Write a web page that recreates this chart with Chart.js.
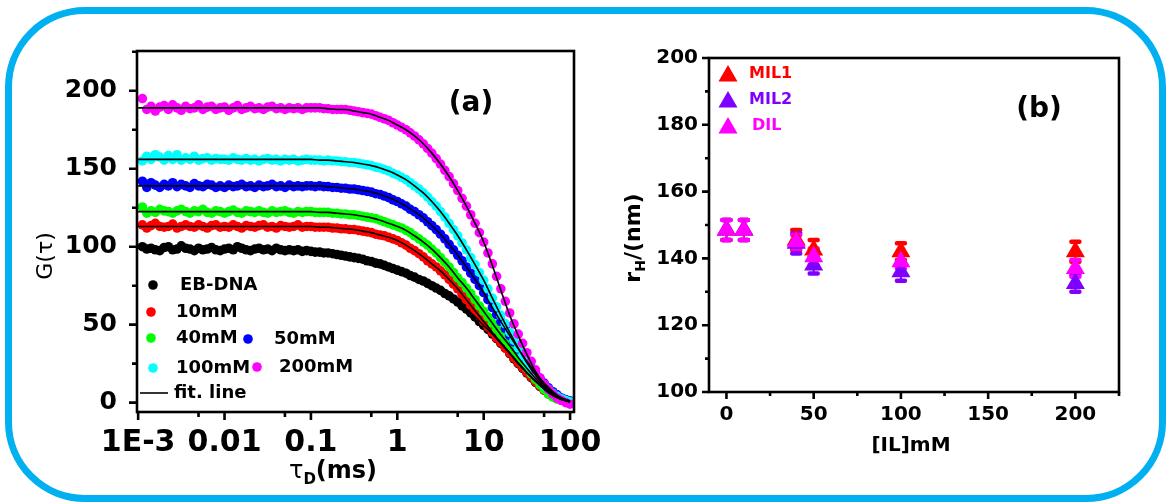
<!DOCTYPE html>
<html>
<head>
<meta charset="utf-8">
<script src="https://cdn.jsdelivr.net/npm/chart.js@4.4.1/dist/chart.umd.min.js"></script>
<style>
html,body{margin:0;padding:0;background:#fff;}
#wrap{position:relative;width:1169px;height:504px;overflow:hidden;background:#fff;}
#frame{position:absolute;left:5px;top:7px;width:1161px;height:495px;box-sizing:border-box;border:7px solid #00b0f0;border-radius:80px;}
#cvA{position:absolute;left:0;top:0;}
#cvB{position:absolute;left:600px;top:0;}
</style>
</head>
<body>
<div id="wrap">
  <div id="frame"></div>
  <canvas id="cvA" width="600" height="504"></canvas>
  <canvas id="cvB" width="569" height="504"></canvas>
</div>
<script>
const FONT = "'DejaVu Sans', sans-serif";

// ---- (a) correlation curves G(tau) ----
const tau = [0.00112, 0.00126, 0.00141, 0.00158, 0.00178, 0.002, 0.00224, 0.00251, 0.00282,
  0.00316, 0.00355, 0.00398, 0.00447, 0.00501, 0.00562, 0.00631, 0.00708, 0.00794, 0.00891,
  0.01, 0.0112, 0.0126, 0.0141, 0.0158, 0.0178, 0.02, 0.0224, 0.0251, 0.0282,
  0.0316, 0.0355, 0.0398, 0.0447, 0.0501, 0.0562, 0.0631, 0.0708, 0.0794, 0.0891,
  0.1, 0.112, 0.126, 0.141, 0.158, 0.178, 0.2, 0.224, 0.251, 0.282,
  0.316, 0.355, 0.398, 0.447, 0.501, 0.562, 0.631, 0.708, 0.794, 0.891,
  1, 1.12, 1.26, 1.41, 1.58, 1.78, 2, 2.24, 2.51, 2.82,
  3.16, 3.55, 3.98, 4.47, 5.01, 5.62, 6.31, 7.08, 7.94, 8.91,
  10, 11.2, 12.6, 14.1, 15.8, 17.8, 20, 22.4, 25.1, 28.2,
  31.6, 35.5, 39.8, 44.7, 50.1, 56.2, 63.1, 70.8, 79.4, 89.1,
  100];

const gEB = [100, 98.5, 99, 98, 97.5, 99.5, 100, 98, 98.5, 100.5, 99, 98.5, 97.5, 99, 98, 98.5, 99.5, 98, 97.5,
  98.5, 99, 98, 100, 99, 98, 97.5, 98.5, 99, 98, 98.5, 97.5, 99, 98, 97.5, 98, 97.5, 98, 97, 97.5,
  97, 96.5, 96.5, 96, 96, 95.5, 95, 94.5, 94, 93.5, 93, 92.5, 92, 91, 90.5, 89.5, 89, 88, 87, 86,
  85, 84, 83, 81.5, 80.5, 79, 78, 76.5, 75, 73.5, 72, 70, 68.5, 66.5, 64.5, 62, 60, 57.5, 55, 52,
  49.5, 47, 44, 41, 38, 35, 31.5, 28, 25, 22, 19, 16, 13, 10.5, 8, 6, 4, 3, 2, 1,
  0.5];
const g10 = [114, 112, 113.5, 115, 113, 112.5, 113, 114.5, 112, 113, 114, 113, 112.5, 114, 113, 112, 113.5, 114, 112.5,
  113, 112.5, 114, 113, 112, 113.5, 113, 112.5, 113.5, 114, 112.5, 113, 112, 113.5, 113, 112.5, 113, 114, 112.5, 113,
  113, 112.5, 112.5, 112.5, 112.5, 112, 112, 111.5, 111.5, 111, 111, 110.5, 110, 109.5, 109, 108, 107.5, 107, 106, 105,
  104, 102.5, 101, 99, 97.5, 95.5, 93.5, 91, 89, 87, 84.5, 82, 79, 76, 73, 69.5, 66, 62.5, 59, 55.5,
  52, 48.5, 45, 41.5, 38.5, 35, 32, 28.5, 25.5, 22.5, 19.5, 16.5, 13.5, 10.5, 8, 5.5, 4, 2.5, 1.5, 1,
  0.5];
const g40 = [125.5, 121.5, 123, 122, 124, 123, 122.5, 121.5, 123, 124, 122.5, 121.5, 123, 122.5, 124, 122, 121.5, 123, 122.5,
  121.5, 122.5, 123.5, 122, 121.5, 123, 122.5, 122, 123, 122, 121.5, 123, 122, 122.5, 123, 122, 121.5, 122.5, 122, 122.5,
  122.5, 122, 122, 122, 122, 121.5, 121.5, 121, 121, 120.5, 120.5, 120, 119.5, 119, 118.5, 118, 117, 116, 115, 114,
  113, 112, 110.5, 109, 107, 105, 103, 101, 98.5, 96, 93, 90, 87, 83.5, 80, 77, 73.5, 70, 66, 62,
  58.5, 55, 51, 47, 43.5, 40, 36.5, 33, 29, 25.5, 22, 18.5, 15, 11.5, 8.5, 5.5, 3.5, 2.5, 2, 1.5,
  1];
const g50 = [142, 138, 141, 139.5, 138, 140, 139, 141, 138.5, 140, 139, 138, 140.5, 139, 138.5, 140, 139.5, 138, 139,
  138, 139.5, 138.5, 139, 140, 138.5, 139, 138, 139.5, 138.5, 139, 140, 138.5, 139, 138, 139.5, 138.5, 139, 138.5, 139,
  139, 138.5, 139, 138.5, 138.5, 138, 138, 137.5, 137.5, 137, 137, 136.5, 136, 135.5, 135, 134, 133.5, 132.5, 131.5, 130,
  129, 127.5, 126, 124, 122.5, 120.5, 118.5, 116, 113.5, 111, 108, 105, 101.5, 98, 94.5, 91, 87, 83, 79, 75,
  70.5, 66, 61, 56.5, 52, 47.5, 43, 39, 34.5, 30.5, 26.5, 22.5, 19, 15.5, 12.5, 9.5, 7, 5, 3, 2,
  1];
const g100 = [155, 158, 156, 159, 157.5, 155.5, 158.5, 156, 159, 155.5, 157, 156, 158, 155.5, 156.5, 157, 155.5, 156.5, 156,
  156, 155.5, 157, 156, 155.5, 156.5, 155.5, 156, 155, 156, 156.5, 155.5, 156, 155, 156, 155.5, 156, 155, 155.5, 156,
  155.5, 155.5, 155.5, 155, 155.5, 155, 155, 154.5, 154.5, 154, 154, 153.5, 153, 152.5, 152, 151, 150.5, 149.5, 148.5, 147,
  146, 144.5, 143, 141, 139, 137, 134.5, 132, 129, 126, 122.5, 119, 115, 111, 107, 102.5, 98, 93, 88.5, 83.5,
  78.5, 73, 67, 61.5, 56, 50.5, 45, 40, 35, 30, 25.5, 21.5, 17.5, 14, 11, 8.5, 6, 4, 2.5, 1.5,
  0.5];
const g200 = [195, 188, 190, 187, 189.5, 190.5, 188, 191, 189, 187.5, 190, 188.5, 189, 191, 188, 189.5, 190, 188, 189,
  189.5, 187.5, 189, 190.5, 188, 189, 190, 188.5, 189, 188, 189.5, 190, 188.5, 189, 188, 189, 188.5, 189, 188, 189,
  189, 189, 189, 188.5, 188.5, 188, 188, 188, 188, 187.5, 187, 186.5, 186, 185.5, 185, 184, 183, 182, 181, 179.5,
  178, 176.5, 175, 173, 171, 168.5, 166, 163, 160, 156.5, 153, 149, 145, 140.5, 136, 131, 126, 120.5, 115, 109,
  103, 96, 89, 81, 73, 65, 57.5, 50.5, 44, 38, 32, 26.5, 21, 16, 12, 8.5, 5.5, 3, 1.5, 0,
  -1];

// fitted curves, sampled ten per decade
const tauFit = [0.001, 0.00126, 0.00158, 0.002, 0.00251, 0.00316, 0.00398, 0.00501, 0.00631, 0.00794,
  0.01, 0.0126, 0.0158, 0.02, 0.0251, 0.0316, 0.0398, 0.0501, 0.0631, 0.0794,
  0.1, 0.126, 0.158, 0.2, 0.251, 0.316, 0.398, 0.501, 0.631, 0.794,
  1, 1.26, 1.58, 2, 2.51, 3.16, 3.98, 5.01, 6.31, 7.94,
  10, 12.6, 15.8, 20, 25.1, 31.6, 39.8, 50.1, 63.1, 79.4, 100];
const fitEB = [99, 99, 99, 99, 99, 99, 99, 99, 98.5, 98.5, 98.5, 98.5, 98.5, 98, 98, 98, 98, 97.5, 97.5, 97.5,
  97, 96.5, 96, 95, 94, 93, 92, 90.5, 89, 87, 85, 83, 80.5, 78, 75, 72, 68.5, 64.5, 60, 55,
  49.5, 44, 38, 31.5, 25, 19, 13.5, 8.5, 4.5, 2, 0.5];
const fit10 = [113, 113, 113, 113, 113, 113, 113, 113, 113, 113, 113, 113, 113, 113, 113, 113, 113, 113, 113, 113,
  113, 112.5, 112.5, 112, 111.5, 111, 110, 109, 107.5, 106, 104, 101, 97.5, 93.5, 89, 84.5, 79, 73, 66, 59,
  52, 45, 38.5, 32, 25.5, 19.5, 14, 9, 5, 2, 0.5];
const fit40 = [122.5, 122.5, 122.5, 122.5, 122.5, 122.5, 122.5, 122.5, 122.5, 122.5, 122.5, 122.5, 122.5, 122.5, 122.5, 122.5, 122.5, 122.5, 122.5, 122.5,
  122.5, 122, 122, 121.5, 121, 120.5, 119.5, 118.5, 117, 115, 113, 110.5, 107, 103, 98.5, 93, 87, 80, 73.5, 66,
  58.5, 51, 43.5, 36.5, 29, 22, 15.5, 10, 5.5, 2.5, 0.5];
const fit50 = [139, 139, 139, 139, 139, 139, 139, 139, 139, 139, 139, 139, 139, 139, 139, 139, 139, 139, 139, 139,
  139, 139, 138.5, 138, 137.5, 137, 136, 135, 133.5, 131.5, 129, 126, 122.5, 118.5, 113.5, 108, 101.5, 94.5, 87, 79,
  70.5, 61, 52, 43, 34.5, 26.5, 19, 12.5, 7, 3, 1];
const fit100 = [156, 156, 156, 156, 156, 156, 156, 156, 156, 156, 156, 156, 156, 156, 156, 156, 156, 156, 156, 156,
  156, 155.5, 155.5, 155, 154.5, 154, 153, 152, 150.5, 148.5, 146, 143, 139, 134.5, 129, 122.5, 115, 107, 98, 88.5,
  78.5, 67, 56, 45, 35, 25.5, 17.5, 11, 6, 2.5, 0.5];
const fit200 = [189, 189, 189, 189, 189, 189, 189, 189, 189, 189, 189, 189, 189, 189, 189, 189, 189, 189, 189, 189,
  189, 189, 188.5, 188, 188, 187, 186, 185, 183, 181, 178, 175, 171, 166, 160, 153, 145, 136, 126, 115,
  103, 88, 72, 56, 43, 31, 20, 12, 6, 3, 1];

const seriesNames = ['EB-DNA', '10mM', '40mM', '50mM', '100mM', '200mM'];
const seriesColors = ['#000000', '#ff0000', '#00ff00', '#0000ff', '#00ffff', '#ff00ff'];
const tauTicks = [0.001, 0.01, 0.1, 1, 10, 100];
const tauTickLabels = ['1E-3', '0.01', '0.1', '1', '10', '100'];
const tauMinor = [0.005, 0.05, 0.5, 5, 50];
const gTicks = [0, 50, 100, 150, 200];
const gMinor = [25, 75, 125, 175, 225];

// ---- (b) hydrodynamic radius vs IL concentration ----
const ilConc = [0, 10, 40, 50, 100, 200];
const rhMIL1 = [148.5, 148.5, 145.5, 142.5, 142, 142];
const errMIL1 = [3, 3, 3, 3, 2.5, 3];
const rhMIL2 = [148.5, 148.5, 144.5, 138, 136, 132.5];
const errMIL2 = [3, 3, 3, 2.5, 2.7, 2.5];
const rhDIL = [148.5, 148.5, 145, 140.5, 139, 137];
const errDIL = [3, 3, 2, 2.5, 2, 2.5];
const ilNames = ['MIL1', 'MIL2', 'DIL'];
const ilColors = ['#ff0000', '#8000ff', '#ff00ff'];
const ilTicks = [0, 50, 100, 150, 200];
const ilMinor = [25, 75, 125, 175, 225];
const rhTicks = [100, 120, 140, 160, 180, 200];
const rhMinor = [110, 130, 150, 170, 190];

function fnt(size, weight){ return (weight || 'bold') + ' ' + size + 'px ' + FONT; }

// draw a row of text pieces (for subscripts) centred on x, baseline y
function textRuns(ctx, runs, x, y){
  let w = 0;
  runs.forEach(r => { ctx.font = r.f; r.w = ctx.measureText(r.t).width; w += r.w; });
  let cx = x - w / 2;
  ctx.textAlign = 'left'; ctx.textBaseline = 'alphabetic';
  runs.forEach(r => { ctx.font = r.f; ctx.fillText(r.t, cx, y + (r.dy || 0)); cx += r.w; });
}

function triangle(ctx, x, y, r){
  ctx.beginPath();
  ctx.moveTo(x, y - r);
  ctx.lineTo(x + r * 0.866, y + r / 2);
  ctx.lineTo(x - r * 0.866, y + r / 2);
  ctx.closePath();
  ctx.fill();
}

// box around the plot plus outward major/minor ticks
function axesFrame(xMajor, xMinor, yMajor, yMinor, majLen, minLen){
  return {
    id: 'axesFrame',
    afterDatasetsDraw(chart){
      const {ctx, chartArea: a, scales: {x, y}} = chart;
      ctx.save();
      ctx.strokeStyle = '#000'; ctx.lineWidth = 2.6;
      ctx.strokeRect(a.left, a.top, a.right - a.left, a.bottom - a.top);
      ctx.beginPath();
      const xt = (vals, len) => vals.forEach(v => {
        const p = x.getPixelForValue(v);
        if (p < a.left - 1 || p > a.right + 1) return;
        ctx.moveTo(p, a.bottom); ctx.lineTo(p, a.bottom + len);
      });
      const yt = (vals, len) => vals.forEach(v => {
        const p = y.getPixelForValue(v);
        if (p < a.top - 1 || p > a.bottom + 1) return;
        ctx.moveTo(a.left, p); ctx.lineTo(a.left - len, p);
      });
      xt(xMajor, majLen); xt(xMinor, minLen); yt(yMajor, majLen); yt(yMinor, minLen);
      ctx.stroke();
      ctx.restore();
    }
  };
}

const labelsA = {
  id: 'labelsA',
  afterDraw(chart){
    const ctx = chart.ctx;
    ctx.save();
    ctx.fillStyle = '#000';
    ctx.font = fnt(28); ctx.textAlign = 'center'; ctx.textBaseline = 'middle';
    ctx.fillText('(a)', 471, 104);
    textRuns(ctx, [{t: 'τ', f: fnt(24, 'normal')}, {t: 'D', f: fnt(15), dy: 6}, {t: '(ms)', f: fnt(24)}], 333, 478);
    ctx.save();
    ctx.translate(44, 256); ctx.rotate(-Math.PI / 2);
    textRuns(ctx, [{t: 'G(τ)', f: fnt(22, 'normal')}], 0, 8);
    ctx.restore();
    // legend
    const items = [[153, 285, 180], [151, 312, 176], [151, 338, 176], [248, 339, 274], [153, 368, 176], [257, 367, 279]];
    items.forEach((it, i) => {
      ctx.fillStyle = seriesColors[i];
      ctx.beginPath(); ctx.arc(it[0], it[1], 4.8, 0, Math.PI * 2); ctx.fill();
      ctx.fillStyle = '#000'; ctx.font = fnt(18); ctx.textAlign = 'left'; ctx.textBaseline = 'middle';
      ctx.fillText(seriesNames[i], it[2], it[1]);
    });
    ctx.strokeStyle = '#000'; ctx.lineWidth = 1.6;
    ctx.beginPath(); ctx.moveTo(140, 393); ctx.lineTo(168, 393); ctx.stroke();
    ctx.font = fnt(18); ctx.textAlign = 'left'; ctx.textBaseline = 'middle';
    ctx.fillText('fit. line', 174, 393);
    ctx.restore();
  }
};

const rhSets = [rhMIL1, rhMIL2, rhDIL];
const errSets = [errMIL1, errMIL2, errDIL];

const errorBars = {
  id: 'errorBars',
  beforeDatasetsDraw(chart){
    const {ctx, scales: {x, y}} = chart;
    ctx.save();
    rhSets.forEach((vals, i) => {
      ctx.strokeStyle = ilColors[i];
      vals.forEach((v, j) => {
        const px = x.getPixelForValue(ilConc[j]);
        const top = y.getPixelForValue(v + errSets[i][j]);
        const bot = y.getPixelForValue(v - errSets[i][j]);
        ctx.lineCap = 'butt'; ctx.lineWidth = 2;
        ctx.beginPath(); ctx.moveTo(px, top); ctx.lineTo(px, bot); ctx.stroke();
        ctx.lineCap = 'round'; ctx.lineWidth = 4.5;
        ctx.beginPath();
        ctx.moveTo(px - 4, top); ctx.lineTo(px + 4, top);
        ctx.moveTo(px - 4, bot); ctx.lineTo(px + 4, bot);
        ctx.stroke();
      });
    });
    ctx.restore();
  }
};

const labelsB = {
  id: 'labelsB',
  afterDraw(chart){
    const ctx = chart.ctx;
    ctx.save();
    ctx.fillStyle = '#000';
    ctx.font = fnt(28); ctx.textAlign = 'center'; ctx.textBaseline = 'middle';
    ctx.fillText('(b)', 439, 110);
    textRuns(ctx, [{t: '[IL]mM', f: fnt(20)}], 311, 451);
    ctx.save();
    ctx.translate(32, 238); ctx.rotate(-Math.PI / 2);
    textRuns(ctx, [{t: 'r', f: fnt(22)}, {t: 'H', f: fnt(14), dy: 5}, {t: '/(nm)', f: fnt(22)}], 0, 8);
    ctx.restore();
    const rows = [[74, 149], [100, 149], [126, 152]];
    rows.forEach((r, i) => {
      ctx.fillStyle = ilColors[i];
      triangle(ctx, 128, r[0] + 2, 11);
      ctx.font = fnt(16); ctx.textAlign = 'left'; ctx.textBaseline = 'middle';
      ctx.fillText(ilNames[i], r[1], r[0]);
    });
    ctx.restore();
  }
};

const tickFont = size => ({family: FONT, weight: 'bold', size: size});

// ---- chart (a) ----
const datasetsA = [];
[fitEB, fit10, fit40, fit50, fit100, fit200].forEach(f => datasetsA.push({
  type: 'line', data: tauFit.map((t, j) => ({x: t, y: f[j]})),
  borderColor: '#000', borderWidth: 1.6, pointRadius: 0, fill: false,
  cubicInterpolationMode: 'monotone', order: 0, clip: false
}));
[gEB, g10, g40, g50, g100, g200].forEach((g, i) => datasetsA.push({
  type: 'scatter', data: tau.map((t, j) => ({x: t, y: g[j]})),
  backgroundColor: seriesColors[i], borderWidth: 0, pointRadius: 4.8, order: 6 - i, clip: false
}));

new Chart(document.getElementById('cvA'), {
  type: 'scatter',
  data: {datasets: datasetsA},
  options: {
    responsive: false, animation: false, devicePixelRatio: 1, events: [],
    layout: {padding: {left: 37, right: 26, top: 51, bottom: 32}},
    plugins: {legend: {display: false}, tooltip: {enabled: false}},
    scales: {
      x: {
        type: 'logarithmic', min: 0.00097, max: 111,
        grid: {display: false, drawTicks: false}, border: {display: false},
        afterBuildTicks: s => { s.ticks = tauTicks.map(v => ({value: v})); },
        afterFit: s => { s.height = 60; s.paddingLeft = 0; s.paddingRight = 0; },
        ticks: {autoSkip: false, maxRotation: 0, padding: 13, color: '#000', font: tickFont(30),
          callback: (v, i) => tauTickLabels[i]}
      },
      y: {
        type: 'linear', min: -6, max: 225.5,
        grid: {display: false, drawTicks: false}, border: {display: false},
        afterBuildTicks: s => { s.ticks = gTicks.map(v => ({value: v})); },
        afterFit: s => { s.width = 100; s.paddingTop = 0; s.paddingBottom = 0; },
        ticks: {padding: 20, color: '#000', font: tickFont(25), callback: v => String(v)}
      }
    }
  },
  plugins: [axesFrame(tauTicks, tauMinor, gTicks, gMinor, 8, 5), labelsA]
});

// ---- chart (b) ----
new Chart(document.getElementById('cvB'), {
  type: 'scatter',
  data: {
    datasets: rhSets.map((r, i) => ({
      data: ilConc.map((c, j) => ({x: c, y: r[j]})),
      pointStyle: 'triangle', pointRadius: 11, backgroundColor: ilColors[i],
      borderColor: ilColors[i], borderWidth: 0, order: 3 - i, clip: false
    }))
  },
  options: {
    responsive: false, animation: false, devicePixelRatio: 1, events: [],
    layout: {padding: {left: 49, right: 50, top: 58, bottom: 52}},
    plugins: {legend: {display: false}, tooltip: {enabled: false}},
    scales: {
      x: {
        type: 'linear', min: -10, max: 225,
        grid: {display: false, drawTicks: false}, border: {display: false},
        afterBuildTicks: s => { s.ticks = ilTicks.map(v => ({value: v})); },
        afterFit: s => { s.height = 60; s.paddingLeft = 0; s.paddingRight = 0; },
        ticks: {autoSkip: false, maxRotation: 0, padding: 11, color: '#000', font: tickFont(20), callback: v => String(v)}
      },
      y: {
        type: 'linear', min: 100, max: 200,
        grid: {display: false, drawTicks: false}, border: {display: false},
        afterBuildTicks: s => { s.ticks = rhTicks.map(v => ({value: v})); },
        afterFit: s => { s.width = 60; s.paddingTop = 0; s.paddingBottom = 0; },
        ticks: {padding: 11, color: '#000', font: tickFont(20), callback: v => String(v)}
      }
    }
  },
  plugins: [errorBars, axesFrame(ilTicks, ilMinor, rhTicks, rhMinor, 7, 4), labelsB]
});
</script>
</body>
</html>
